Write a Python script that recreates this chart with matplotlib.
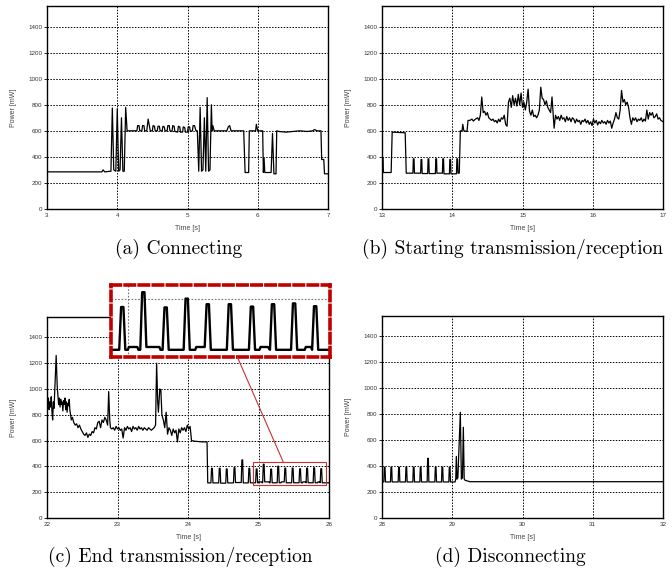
"""Power traces for the four connection phases (a)-(d)."""

import matplotlib

matplotlib.use("Agg")
import matplotlib.pyplot as plt
from matplotlib.patches import ConnectionPatch, Rectangle

# (a) Connecting
conn_t = [3.00, 3.78, 3.80, 3.82, 3.91, 3.93, 3.95, 3.98, 4.00, 4.02,
          4.04, 4.06, 4.08, 4.10, 4.12, 4.14, 4.28, 4.29, 4.31, 4.32,
          4.35, 4.36, 4.38, 4.39, 4.42, 4.44, 4.46, 4.47, 4.50, 4.51,
          4.53, 4.54, 4.57, 4.58, 4.60, 4.61, 4.64, 4.65, 4.67, 4.68,
          4.71, 4.72, 4.74, 4.75, 4.78, 4.79, 4.81, 4.82, 4.86, 4.87,
          4.89, 4.90, 4.93, 4.94, 4.96, 4.97, 5.00, 5.01, 5.03, 5.04,
          5.07, 5.08, 5.10, 5.12, 5.14, 5.16, 5.18, 5.20, 5.22, 5.24,
          5.26, 5.28, 5.30, 5.32, 5.34, 5.35, 5.36, 5.38, 5.56, 5.58,
          5.60, 5.62, 5.80, 5.82, 5.87, 5.88, 5.97, 5.98, 6.00, 6.07,
          6.08, 6.09, 6.10, 6.19, 6.21, 6.23, 6.26, 6.27, 6.30, 6.40,
          6.50, 6.60, 6.70, 6.78, 6.81, 6.84, 6.90, 6.91, 6.94, 6.95,
          7.00]
conn_p = [285, 285, 300, 285, 290, 775, 300, 290, 770, 290,
          300, 700, 290, 290, 780, 600, 600, 640, 640, 600,
          600, 640, 640, 600, 600, 690, 630, 600, 600, 640,
          635, 600, 600, 635, 635, 600, 600, 635, 630, 600,
          600, 640, 640, 600, 595, 640, 635, 595, 590, 635,
          630, 590, 590, 630, 625, 590, 590, 630, 630, 595,
          600, 640, 640, 600, 600, 290, 780, 290, 300, 700,
          290, 855, 290, 300, 800, 600, 640, 600, 600, 630,
          640, 600, 600, 280, 280, 600, 600, 650, 600, 600,
          280, 390, 280, 280, 580, 270, 270, 600, 595, 590,
          595, 600, 595, 600, 610, 600, 600, 380, 380, 270,
          270]

# (b) Starting transmission/reception
start_t = [13.000, 13.005, 13.015, 13.020, 13.130, 13.145, 13.330, 13.345,
           13.440, 13.446, 13.456, 13.462, 13.550, 13.556, 13.566, 13.572,
           13.650, 13.656, 13.666, 13.672, 13.760, 13.766, 13.776, 13.782,
           13.860, 13.866, 13.876, 13.882, 13.960, 13.966, 13.976, 13.982,
           14.060, 14.066, 14.076, 14.082, 14.100, 14.115, 14.140, 14.150,
           14.165, 14.210, 14.225,
           14.25, 14.28, 14.30, 14.33, 14.36, 14.38, 14.40, 14.42, 14.44, 14.46,
           14.48, 14.50, 14.52, 14.54, 14.56, 14.58, 14.60, 14.62, 14.64, 14.66,
           14.68, 14.70, 14.72, 14.74, 14.76, 14.78, 14.80, 14.82, 14.84, 14.86,
           14.88, 14.90, 14.92, 14.94, 14.96, 14.98, 15.00, 15.02, 15.04, 15.06,
           15.08, 15.10, 15.12, 15.14, 15.16, 15.18, 15.20, 15.22, 15.24, 15.26,
           15.28, 15.30, 15.32, 15.34, 15.36, 15.38, 15.40, 15.42, 15.44, 15.45,
           15.47, 15.49, 15.51, 15.53, 15.55, 15.57, 15.59, 15.61, 15.63, 15.65,
           15.67, 15.69, 15.71, 15.73, 15.75, 15.77, 15.79, 15.81, 15.83, 15.85,
           15.87, 15.89, 15.91, 15.93, 15.95, 15.97, 15.99, 16.01, 16.03, 16.05,
           16.07, 16.09, 16.11, 16.13, 16.15, 16.17, 16.19, 16.21, 16.23, 16.25,
           16.27, 16.29, 16.31, 16.33, 16.35, 16.37, 16.39, 16.41, 16.43, 16.45,
           16.47, 16.49, 16.51, 16.53, 16.55, 16.57, 16.59, 16.61, 16.63, 16.65,
           16.67, 16.69, 16.71, 16.73, 16.75, 16.77, 16.79, 16.81, 16.83, 16.85,
           16.87, 16.89, 16.91, 16.93, 16.95, 16.97, 17.00]
start_p = [280, 390, 390, 280, 280, 590, 585, 275,
           275, 385, 385, 275, 275, 380, 380, 272,
           272, 385, 385, 272, 272, 385, 385, 275,
           275, 385, 385, 270, 270, 380, 380, 270,
           270, 385, 385, 275, 275, 600, 600, 650,
           600, 595, 680,
           680, 690, 675, 690, 700, 680, 720, 860, 740, 750,
           720, 740, 700, 690, 680, 690, 670, 680, 660, 690,
           670, 700, 690, 720, 650, 635, 820, 850, 780, 870,
           800, 850, 790, 880, 800, 890, 780, 820, 760, 820,
           920, 750, 720, 760, 710, 720, 700, 720, 760, 935,
           850, 840, 800, 830, 780, 760, 740, 860, 700, 620,
           720, 690, 710, 680, 720, 690, 700, 670, 710, 680,
           700, 670, 700, 690, 660, 690, 670, 680, 650, 680,
           670, 690, 660, 680, 650, 670, 640, 690, 660, 680,
           645, 670, 655, 680, 660, 670, 650, 680, 660, 675,
           620, 660, 690, 740, 700, 690, 760, 910, 820, 840,
           800, 820, 780, 700, 650, 700, 680, 700, 670, 690,
           680, 700, 670, 690, 675, 760, 690, 740, 720, 740,
           700, 710, 730, 690, 700, 680, 670]

# (c) End transmission/reception
end_t = [22.000, 22.010, 22.020, 22.030, 22.040, 22.050, 22.060, 22.070, 22.080, 22.090,
         22.100, 22.110, 22.130, 22.145, 22.155, 22.165, 22.175, 22.185, 22.195, 22.205,
         22.215, 22.225, 22.235, 22.245, 22.255, 22.265, 22.275, 22.285, 22.295, 22.305,
         22.315, 22.325, 22.335, 22.345, 22.36, 22.38, 22.40, 22.42, 22.44, 22.46,
         22.48, 22.50, 22.52, 22.54, 22.56, 22.58, 22.60, 22.62, 22.64, 22.66,
         22.68, 22.70, 22.72, 22.74, 22.76, 22.78, 22.80, 22.82, 22.84, 22.86,
         22.875, 22.89, 22.90, 22.92, 22.94, 22.96, 22.98, 23.00, 23.02, 23.04,
         23.06, 23.08, 23.10, 23.12, 23.14, 23.16, 23.18, 23.20, 23.22, 23.24,
         23.26, 23.28, 23.30, 23.32, 23.34, 23.36, 23.38, 23.40, 23.42, 23.44,
         23.46, 23.48, 23.50, 23.52, 23.54, 23.555, 23.57, 23.58, 23.60, 23.615,
         23.63, 23.65, 23.67, 23.69, 23.71, 23.73, 23.75, 23.77, 23.79, 23.81,
         23.83, 23.85, 23.87, 23.89, 23.91, 23.93, 23.95, 23.97, 23.99, 24.01,
         24.03, 24.05, 24.10, 24.20, 24.27, 24.28,
         24.325, 24.334, 24.345, 24.354, 24.435, 24.444, 24.455, 24.464,
         24.535, 24.544, 24.555, 24.564, 24.645, 24.654, 24.665, 24.674,
         24.755, 24.764, 24.775, 24.784, 24.855, 24.864, 24.875, 24.884,
         24.959, 24.968, 24.979, 24.988, 25.000, 25.005, 25.045, 25.050,
         25.059, 25.068, 25.079, 25.088, 25.150, 25.155,
         25.165, 25.174, 25.185, 25.194, 25.265, 25.274, 25.285, 25.294,
         25.320, 25.325, 25.365, 25.374, 25.385, 25.394,
         25.470, 25.479, 25.490, 25.499, 25.575, 25.584, 25.595, 25.604,
         25.625, 25.630, 25.665, 25.675, 25.684, 25.695, 25.704,
         25.775, 25.784, 25.795, 25.804, 25.840, 25.845, 25.870, 25.875,
         25.884, 25.895, 25.904, 26.000]
end_p = [950, 880, 930, 840, 900, 860, 940, 830, 760, 900,
         850, 980, 1260, 1020, 950, 880, 930, 860, 920, 880,
         900, 830, 910, 880, 930, 840, 900, 820, 890, 870,
         920, 830, 800, 760, 780, 740, 720, 730, 700, 720,
         690, 670, 650, 640, 660, 625, 650, 640, 670, 660,
         700, 690, 740, 750, 700, 760, 740, 780, 760, 720,
         980, 760, 700, 690, 700, 680, 710, 690, 700, 680,
         690, 620, 700, 680, 710, 690, 700, 670, 710, 690,
         700, 680, 710, 690, 700, 680, 700, 690, 680, 700,
         690, 680, 690, 700, 720, 1200, 900, 820, 1000, 990,
         800, 760, 700, 820, 650, 700, 680, 640, 690, 660,
         680, 590, 690, 660, 700, 680, 700, 670, 720, 690,
         710, 600, 595, 590, 590, 272,
         272, 385, 385, 272, 272, 385, 385, 270,
         270, 380, 380, 272, 272, 390, 390, 275,
         275, 450, 450, 272, 272, 385, 385, 273,
         273, 380, 380, 273, 273, 280, 280, 273,
         273, 417, 417, 280, 280, 273,
         273, 379, 379, 273, 273, 401, 401, 273,
         273, 280, 280, 387, 387, 273,
         273, 387, 387, 273, 273, 381, 381, 273,
         273, 280, 280, 273, 387, 387, 273,
         273, 389, 389, 273, 273, 280, 280, 273,
         382, 382, 273, 273]

# (d) Disconnecting
disc_t = [28.000, 28.026, 28.033, 28.043, 28.050, 28.121, 28.128, 28.138, 28.145,
          28.230, 28.237, 28.247, 28.254, 28.334, 28.341, 28.351, 28.358,
          28.439, 28.446, 28.456, 28.463, 28.538, 28.545, 28.555, 28.562,
          28.643, 28.650, 28.660, 28.667, 28.752, 28.759, 28.769, 28.776,
          28.847, 28.854, 28.864, 28.871, 28.951, 28.958, 28.968, 28.975,
          29.040, 29.050, 29.058, 29.068, 29.080, 29.115, 29.130, 29.145,
          29.158, 29.170, 29.185, 29.220, 29.250, 32.000]
disc_p = [278, 278, 392, 392, 278, 278, 392, 392, 278,
          278, 392, 392, 278, 278, 392, 392, 278,
          278, 392, 392, 278, 278, 392, 392, 278,
          278, 460, 460, 278, 278, 392, 392, 278,
          278, 392, 392, 278, 278, 392, 392, 278,
          278, 300, 475, 300, 310, 815, 300, 310,
          700, 300, 290, 285, 280, 280]

PANELS = [
    ("(a) Connecting", conn_t, conn_p, [3, 4, 5, 6, 7]),
    ("(b) Starting transmission/reception", start_t, start_p, [13, 14, 15, 16, 17]),
    ("(c) End transmission/reception", end_t, end_p, [22, 23, 24, 25, 26]),
    ("(d) Disconnecting", disc_t, disc_p, [28, 29, 30, 31, 32]),
]
POWER_TICKS = [0, 200, 400, 600, 800, 1000, 1200, 1400]

# pixel boxes (left, top, right, bottom) and caption centres
BOXES = [(47, 6, 328, 209), (382, 6, 663, 209), (47, 317, 329, 518), (382, 316, 663, 518)]
CAPTIONS = [(179, 249), (513, 249), (180, 557), (510, 557)]
W, H = 672, 569

TICK_FONT = "Liberation Sans"


def style_axis(ax, xticks):
    ax.set_xlim(xticks[0], xticks[-1])
    ax.set_ylim(0, 1558)
    ax.set_xticks(xticks)
    ax.set_yticks(POWER_TICKS)
    ax.grid(True, color="black", linestyle=(0, (1.5, 1.5)), linewidth=0.7)
    for spine in ax.spines.values():
        spine.set_linewidth(1.0)
    ax.tick_params(axis="y", direction="out", length=2, width=0.6, pad=1.5,
                   labelsize=4.5, labelcolor="#333333")
    ax.tick_params(axis="x", direction="in", length=0, pad=3,
                   labelsize=4.5, labelcolor="#333333")
    for lab in ax.get_xticklabels() + ax.get_yticklabels():
        lab.set_fontfamily(TICK_FONT)
    ax.set_xlabel("Time [s]", fontsize=5, color="#444444", family=TICK_FONT)
    ax.set_ylabel("Power [mW]", fontsize=5, color="#444444", family=TICK_FONT)
    ax.xaxis.set_label_coords(0.5, -0.078)
    ax.yaxis.set_label_coords(-0.105, 0.5)


def main():
    fig = plt.figure(figsize=(W / 100, H / 100), dpi=100)
    axes = []
    for (caption, t, p, xticks), (l, tp, r, b), (cx, cy) in zip(PANELS, BOXES, CAPTIONS):
        ax = fig.add_axes([l / W, 1 - b / H, (r - l) / W, (b - tp) / H])
        ax.plot(t, p, color="black", linewidth=0.9)
        style_axis(ax, xticks)
        fig.text(cx / W, 1 - cy / H, caption, ha="center", va="center",
                 fontsize=14, family="cmr10")
        axes.append(ax)

    # zoomed inset of the tail of panel (c)
    ax_c = axes[2]
    zx, zy = (24.92, 25.96), (255, 435)
    ax_c.add_patch(Rectangle((zx[0], zy[0]), zx[1] - zx[0], zy[1] - zy[0],
                             fill=False, edgecolor="#c83232", linewidth=0.8, zorder=5))
    ins = fig.add_axes([111 / W, 1 - 357 / H, 219 / W, 72 / H], facecolor="white")
    ins.plot(end_t, end_p, color="black", linewidth=1.7)
    ins.set_xlim(*zx)
    ins.set_ylim(*zy)
    ins.set_xticks([25])
    ins.set_yticks([400])
    ins.tick_params(length=0, labelbottom=False, labelleft=False)
    ins.grid(True, color="#777777", linestyle=(0, (1.5, 1.5)), linewidth=0.8)
    for spine in ins.spines.values():
        spine.set_edgecolor("#c00000")
        spine.set_linewidth(2.6)
        spine.set_linestyle((0, (2.6, 1.3)))

    con = ConnectionPatch(xyA=(25.52, zy[0]), coordsA=ins.transData,
                          xyB=(25.35, zy[1]), coordsB=ax_c.transData,
                          color="#c83232", linewidth=0.8)
    fig.add_artist(con)

    fig.savefig("out.png", dpi=100)
    plt.close(fig)


if __name__ == "__main__":
    main()
